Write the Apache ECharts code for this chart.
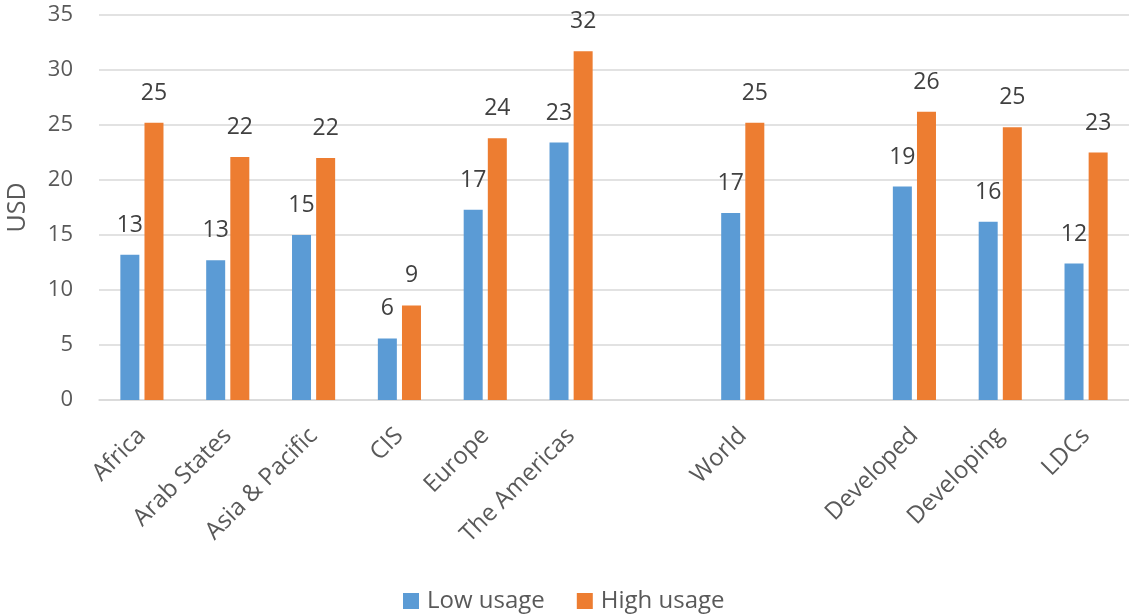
<!DOCTYPE html>
<html>
<head>
<meta charset="utf-8">
<script src="https://cdn.jsdelivr.net/npm/echarts@6/dist/echarts.min.js"></script>
<style>
  html, body { margin: 0; padding: 0; background: #ffffff; }
  #chart { width: 1129px; height: 615px; }
</style>
</head>
<body>
<div id="chart"></div>
<script>
// Regions, the world total and development groups; blank slots separate the groups.
const categories = ['Africa', 'Arab States', 'Asia & Pacific', 'CIS', 'Europe', 'The Americas', '', 'World', '', 'Developed', 'Developing', 'LDCs'];
const lowUsage  = [13.2, 12.7, 15.0, 5.6, 17.3, 23.4, null, 17.0, null, 19.4, 16.2, 12.4];
const highUsage = [25.2, 22.1, 22.0, 8.6, 23.8, 31.7, null, 25.2, null, 26.2, 24.8, 22.5];
const seriesNames = ['Low usage', 'High usage'];
const yTicks = { min: 0, max: 35, interval: 5 };

const FONT = '"Open Sans", "Noto Sans", sans-serif';
const gridColor = '#D9D9D9';

const labelStyle = {
  show: true,
  position: 'top',
  distance: 18,
  color: '#404040',
  fontSize: 23,
  fontFamily: FONT,
  formatter: p => (p.value == null ? '' : Math.round(p.value))
};

const chart = echarts.init(document.getElementById('chart'), null, { renderer: 'canvas' });
chart.setOption({
  animation: false,
  backgroundColor: '#ffffff',
  textStyle: { fontFamily: FONT },
  grid: { left: 99, right: 0, top: 15, bottom: 215, containLabel: false, outerBoundsMode: 'none' },
  legend: {
    top: 589,
    left: 403,
    padding: 0,
    itemWidth: 16,
    itemHeight: 16,
    itemGap: 32,
    icon: 'rect',
    textStyle: { color: '#595959', fontSize: 24, fontFamily: FONT, padding: [0, 0, 0, 3] },
    data: seriesNames
  },
  xAxis: {
    type: 'category',
    data: categories,
    axisTick: { show: false },
    axisLine: { lineStyle: { color: gridColor, width: 1.5 } },
    axisLabel: {
      interval: 0,
      rotate: 45,
      margin: 32,
      color: '#595959',
      fontSize: 24,
      fontFamily: FONT
    }
  },
  yAxis: {
    type: 'value',
    min: yTicks.min,
    max: yTicks.max,
    interval: yTicks.interval,
    name: 'USD',
    nameLocation: 'middle',
    nameGap: 69,
    nameTextStyle: { color: '#595959', fontSize: 25, fontFamily: FONT },
    axisLine: { show: false },
    axisTick: { show: false },
    splitLine: { lineStyle: { color: gridColor, width: 1.5 } },
    axisLabel: { margin: 26, color: '#595959', fontSize: 22, fontFamily: FONT }
  },
  series: [
    {
      name: seriesNames[0],
      type: 'bar',
      data: lowUsage,
      barWidth: 19,
      barGap: '27%',
      itemStyle: { color: '#5B9BD5' },
      label: labelStyle
    },
    {
      name: seriesNames[1],
      type: 'bar',
      data: highUsage,
      barWidth: 19,
      barGap: '27%',
      itemStyle: { color: '#ED7D31' },
      label: labelStyle
    }
  ]
});
</script>
</body>
</html>
